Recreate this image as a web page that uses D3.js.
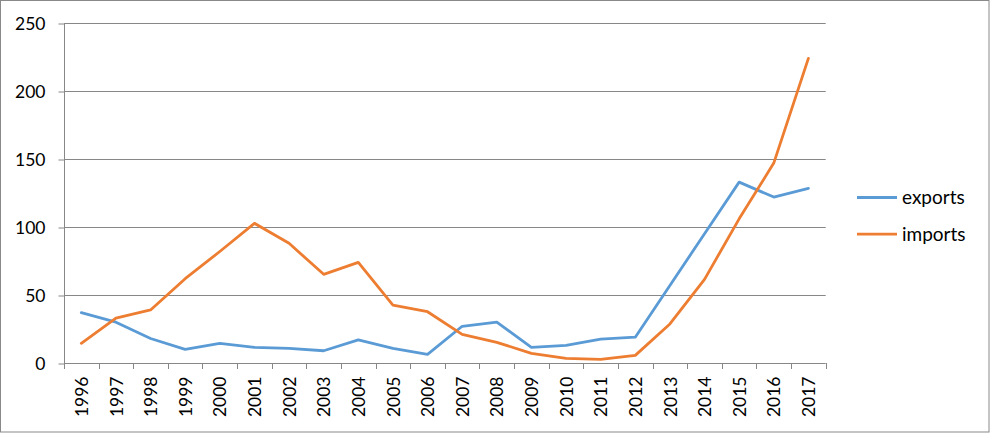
<!DOCTYPE html>
<html><head><meta charset="utf-8">
<script src="https://cdn.jsdelivr.net/npm/d3@7/dist/d3.min.js"></script>
<style>body{margin:0;background:#fff}svg{display:block}</style>
</head><body>
<script>
const years = ["1996","1997","1998","1999","2000","2001","2002","2003","2004","2005","2006","2007","2008","2009","2010","2011","2012","2013","2014","2015","2016","2017"];
const exportsVals = [37,30,18,10,14.5,11.5,10.8,9,17,10.8,6.4,27,30,11.5,13,17.6,19,57,95,133,122,128.4];
const importsVals = [14.5,33,39,62,82,102.7,88,65.2,74,42.6,37.7,21,15.2,7.1,3.4,2.7,5.6,28.7,61.5,106,147,224];
const yTicks = [0,50,100,150,200,250];
const seriesNames = ["exports","imports"];
const colors = ["#5B9BD5","#ED7D31"];

const W=990,H=433;
const svg=d3.select("body").append("svg").attr("width",W).attr("height",H);
svg.append("rect").attr("x",0.5).attr("y",0.5).attr("width",W-1.5).attr("height",H-1.5)
  .attr("fill","#fff").attr("stroke","#898989").attr("stroke-width",1);

const pL=64,pR=825.7,pT=23,pB=363;
const x=d3.scaleBand().domain(years).range([pL,pR]);
const y=d3.scaleLinear().domain([0,250]).range([pB,pT]);
const font="Lato, 'Open Sans', sans-serif";

// gridlines
svg.append("g").selectAll("line").data(yTicks.filter(d=>d>0)).join("line")
  .attr("x1",pL).attr("x2",pR).attr("y1",d=>Math.round(y(d))+0.5).attr("y2",d=>Math.round(y(d))+0.5)
  .attr("stroke","#878787").attr("stroke-width",1);

// y axis
const ya=svg.append("g").attr("transform",`translate(${pL+0.5},0.5)`)
  .call(d3.axisLeft(y).tickValues(yTicks).tickSize(6).tickPadding(13));
ya.select(".domain").attr("stroke","#878787").attr("d",`M0,${pT}V${pB}`);
ya.selectAll(".tick line").attr("stroke","#878787");
ya.selectAll(".tick text").attr("font-family",font).attr("font-size","17.5px").attr("fill","#000");

// x axis
const xa=svg.append("g").attr("transform",`translate(0,${pB+0.5})`)
  .call(d3.axisBottom(x).tickSize(0).tickSizeOuter(0));
xa.select(".domain").attr("stroke","#878787").attr("d",`M${pL},0H${pR}`);
xa.selectAll(".tick text").attr("font-family",font).attr("font-size","17.5px").attr("fill","#000")
  .attr("transform","rotate(-90)").attr("text-anchor","end").attr("dy","0.38em").attr("x",-13).attr("y",0);
// category boundary ticks
const bounds=years.map(d=>x(d)).concat([pR]);
svg.append("g").selectAll("line").data(bounds).join("line")
  .attr("x1",d=>Math.round(d)+0.5).attr("x2",d=>Math.round(d)+0.5)
  .attr("y1",pB).attr("y2",pB+6).attr("stroke","#878787");

// lines
const line=d3.line().x((d,i)=>x(years[i])+x.bandwidth()/2).y(d=>y(d));
[exportsVals,importsVals].forEach((vals,k)=>{
  svg.append("path").datum(vals).attr("d",line).attr("fill","none")
    .attr("stroke",colors[k]).attr("stroke-width",2.8).attr("stroke-linejoin","round").attr("stroke-linecap","round");
});

// legend
const lg=svg.append("g");
seriesNames.forEach((n,k)=>{
  const ly=197.5+k*36.7;
  lg.append("line").attr("x1",857).attr("x2",897).attr("y1",ly).attr("y2",ly)
    .attr("stroke",colors[k]).attr("stroke-width",2.8);
  lg.append("text").attr("x",902).attr("y",ly).attr("dy","0.35em")
    .attr("font-family",font).attr("font-size","19px").attr("fill","#000").text(n);
});
</script>
</body></html>
